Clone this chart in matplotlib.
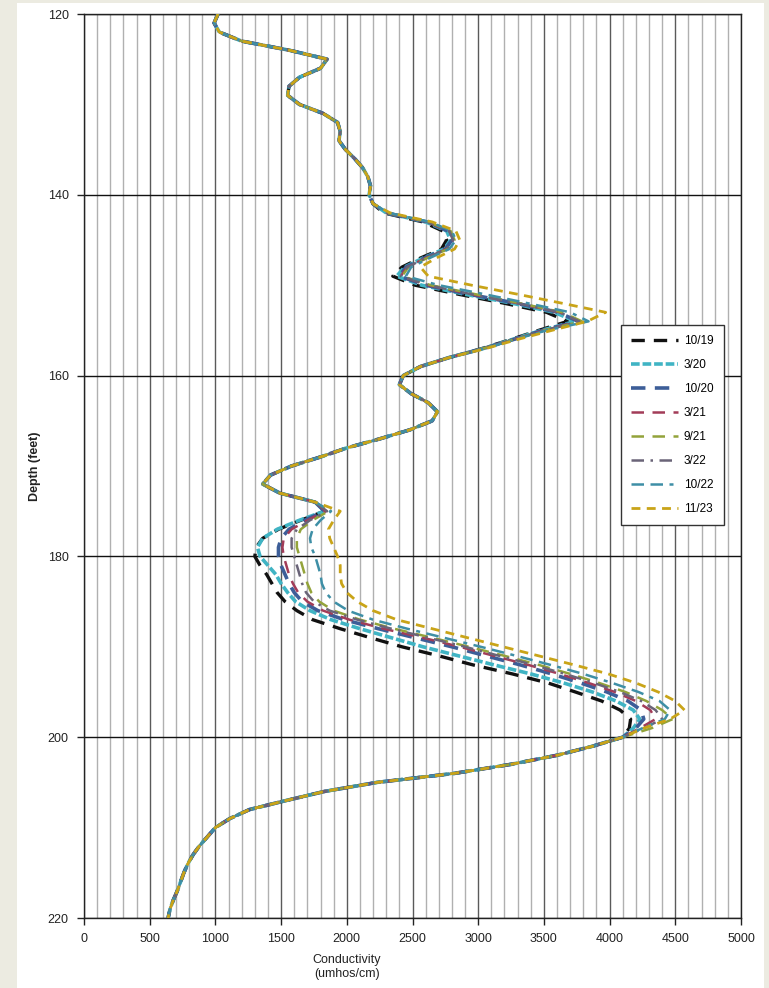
import matplotlib
matplotlib.use("Agg")
import matplotlib.pyplot as plt
from matplotlib.patches import Rectangle
from matplotlib.ticker import MultipleLocator

plt.rcParams["font.family"] = ["Liberation Sans", "DejaVu Sans"]

# ── data: depth (feet) vs conductivity (umhos/cm) ───────────────────────────
# shared upper part (all surveys overlap)
depth_top = list(range(120, 142))
cond_top = [1020, 990, 1030, 1200, 1560, 1850, 1800, 1640, 1560, 1550, 1640,
            1820, 1930, 1950, 1940, 1990, 2060, 2120, 2160, 2180, 2170, 2200]

# first divergent zone, 142-157 ft
depth_a = list(range(142, 158))
a_1019 = [2280, 2580, 2730, 2760, 2720, 2560, 2420, 2350, 2520, 2850, 3200, 3520, 3680, 3460, 3250, 3030]
a_0320 = [2300, 2600, 2760, 2790, 2740, 2580, 2440, 2380, 2570, 2900, 3260, 3580, 3740, 3480, 3260, 3040]
a_1020 = [2300, 2610, 2770, 2800, 2750, 2590, 2450, 2400, 2600, 2930, 3290, 3610, 3760, 3490, 3270, 3040]
a_0321 = [2310, 2610, 2780, 2810, 2760, 2600, 2460, 2410, 2620, 2950, 3300, 3620, 3770, 3500, 3270, 3040]
a_0921 = [2310, 2620, 2790, 2820, 2770, 2610, 2470, 2420, 2640, 2980, 3320, 3640, 3790, 3500, 3270, 3040]
a_0322 = [2300, 2610, 2780, 2810, 2760, 2600, 2460, 2410, 2620, 2950, 3300, 3620, 3770, 3500, 3270, 3040]
a_1022 = [2320, 2630, 2800, 2830, 2780, 2630, 2490, 2450, 2700, 3050, 3380, 3700, 3840, 3520, 3280, 3050]
a_1123 = [2330, 2650, 2830, 2860, 2820, 2680, 2560, 2620, 2950, 3300, 3640, 3970, 3830, 3560, 3300, 3060]

# shared middle part
depth_mid = list(range(158, 175))
cond_mid = [2780, 2560, 2430, 2400, 2490, 2620, 2690, 2650, 2480, 2250, 2000,
            1800, 1580, 1420, 1360, 1490, 1760]

# second divergent zone, 175-199 ft
depth_b = list(range(175, 200))
b_1019 = [1830, 1650, 1480, 1360, 1310, 1300, 1340, 1390, 1430, 1470, 1530, 1620, 1740,
          1950, 2180, 2420, 2700, 2960, 3260, 3530, 3740, 3940, 4080, 4160, 4150]
b_0320 = [1830, 1640, 1470, 1360, 1320, 1340, 1400, 1460, 1500, 1550, 1610, 1720, 1880,
          2100, 2340, 2580, 2850, 3120, 3400, 3650, 3870, 4050, 4180, 4230, 4180]
b_1020 = [1830, 1680, 1560, 1500, 1480, 1480, 1500, 1530, 1560, 1600, 1660, 1780, 1980,
          2240, 2520, 2800, 3060, 3320, 3560, 3780, 3980, 4140, 4240, 4260, 4200]
b_0321 = [1840, 1700, 1580, 1520, 1510, 1520, 1540, 1560, 1590, 1630, 1700, 1820, 2020,
          2280, 2580, 2860, 3120, 3380, 3620, 3840, 4040, 4200, 4310, 4350, 4230]
b_0921 = [1860, 1740, 1650, 1620, 1620, 1640, 1660, 1680, 1700, 1730, 1790, 1900, 2100,
          2360, 2650, 2930, 3200, 3460, 3700, 3920, 4120, 4280, 4400, 4480, 4320]
b_0322 = [1850, 1720, 1620, 1580, 1580, 1600, 1620, 1640, 1660, 1690, 1750, 1870, 2080,
          2340, 2620, 2900, 3160, 3420, 3660, 3880, 4080, 4240, 4350, 4400, 4260]
b_1022 = [1880, 1800, 1740, 1720, 1730, 1760, 1780, 1800, 1810, 1840, 1900, 2010, 2200,
          2460, 2740, 3020, 3290, 3550, 3800, 4020, 4220, 4380, 4460, 4420, 4250]
b_1123 = [1950, 1900, 1860, 1870, 1900, 1930, 1950, 1950, 1960, 2000, 2080, 2200, 2380,
          2650, 2920, 3190, 3460, 3730, 3990, 4200, 4370, 4500, 4570, 4460, 4260]

# shared lower part
depth_bot = list(range(200, 221))
cond_bot = [4100, 3870, 3600, 3250, 2820, 2230, 1830, 1540, 1260, 1110, 1000,
            940, 880, 830, 790, 760, 735, 710, 680, 655, 640]

labels = ["10/19", "3/20", "10/20", "3/21", "9/21", "3/22", "10/22", "11/23"]
zone_a = [a_1019, a_0320, a_1020, a_0321, a_0921, a_0322, a_1022, a_1123]
zone_b = [b_1019, b_0320, b_1020, b_0321, b_0921, b_0322, b_1022, b_1123]

# ── styles ──────────────────────────────────────────────────────────────────
styles = [
    dict(color="#111111", lw=2.4, ls=(0, (4.0, 2.7))),
    dict(color="#40b4c4", lw=2.6, ls=(0, (2.4, 0.8))),
    dict(color="#3d5e98", lw=2.6, ls=(0, (4.0, 2.6))),
    dict(color="#a23c58", lw=1.8, ls=(0, (5.0, 3.4))),
    dict(color="#93a33a", lw=1.8, ls=(0, (5.0, 3.4))),
    dict(color="#6a6478", lw=1.8, ls=(0, (5.0, 2.6, 1.0, 2.6))),
    dict(color="#3e8fa6", lw=1.8, ls=(0, (5.0, 2.6, 5.0, 2.6, 1.6, 2.6))),
    dict(color="#c9a418", lw=2.0, ls=(0, (3.2, 2.3))),
]

fig = plt.figure(figsize=(7.69, 9.88), dpi=100)
fig.patch.set_facecolor("#ecebe1")
fig.patches.append(Rectangle((17 / 769, 0), (764 - 17) / 769, 1 - 3 / 988,
                             transform=fig.transFigure, facecolor="white",
                             edgecolor="none", zorder=-10))

ax = fig.add_axes([84 / 769, 1 - 918 / 988, (741 - 84) / 769, (918 - 14) / 988])
ax.set_zorder(1)
ax.set_facecolor("white")

for lab, sa, sb, st in zip(labels, zone_a, zone_b, styles):
    depth = depth_top + depth_a + depth_mid + depth_b + depth_bot
    cond = cond_top + sa + cond_mid + sb + cond_bot
    ax.plot(cond, depth, label=lab, color=st["color"], lw=st["lw"],
            linestyle=st["ls"], solid_capstyle="butt", dash_capstyle="butt",
            solid_joinstyle="round", dash_joinstyle="round", zorder=3)

ax.set_xlim(0, 5000)
ax.set_ylim(220, 120)
ax.xaxis.set_major_locator(MultipleLocator(500))
ax.xaxis.set_minor_locator(MultipleLocator(100))
ax.yaxis.set_major_locator(MultipleLocator(20))

ax.grid(which="minor", axis="x", color="#b0b0b0", lw=1.0, zorder=1)
ax.grid(which="major", axis="x", color="#5a5a5a", lw=1.0, zorder=1)
ax.grid(which="major", axis="y", color="#111111", lw=1.0, zorder=1)

for sp in ax.spines.values():
    sp.set_color("#222222")
    sp.set_linewidth(1.0)

ax.tick_params(which="major", length=5, width=1, color="#222222",
               labelsize=9, labelcolor="#222222", pad=6)
ax.tick_params(which="minor", length=0)

ax.set_ylabel("Depth (feet)", fontsize=9, fontweight="bold", color="#222222", labelpad=5)
fig.text(347 / 769, 1 - 967 / 988, "Conductivity\n(umhos/cm)", ha="center", va="center",
         fontsize=9, color="#222222", linespacing=1.3)

leg = ax.legend(loc="upper left", bbox_to_anchor=(0.817, 0.656), fontsize=8.5,
                frameon=True, fancybox=False, handlelength=4.0, labelspacing=1.02,
                borderpad=0.85, handletextpad=0.5, borderaxespad=0)
leg.get_frame().set_edgecolor("#333333")
leg.get_frame().set_linewidth(1.0)
leg.get_frame().set_alpha(1)

fig.savefig("out.png", dpi=100, facecolor=fig.get_facecolor())
